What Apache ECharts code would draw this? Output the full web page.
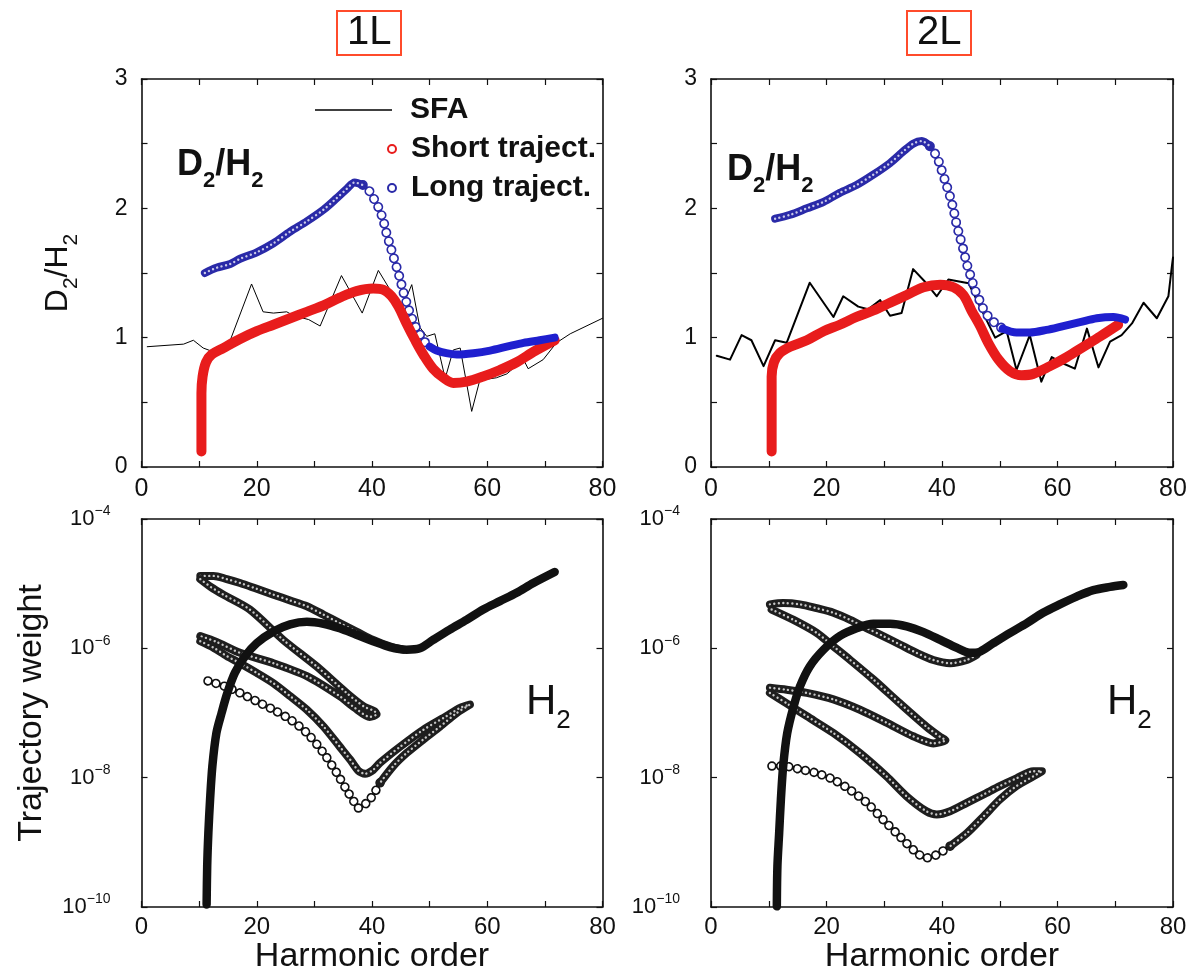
<!DOCTYPE html>
<html>
<head>
<meta charset="utf-8">
<title>D2/H2 ratio and trajectory weights</title>
<script src="https://cdn.jsdelivr.net/npm/echarts@6.0.0/dist/echarts.min.js"></script>
<style>
  html, body { margin: 0; padding: 0; background: #ffffff; }
  #chart { width: 1189px; height: 977px; }
</style>
</head>
<body>
<div id="chart"></div>
<script>
// ---------------- top row: D2/H2 ratio vs harmonic order, [order, ratio] ----------------
// 1L
const sfa1L = [[1.0,0.93],[7.3,0.95],[9.0,0.98],[10.7,0.92],[11.9,0.90],[15.4,0.98],[19.1,1.415],
  [21.1,1.20],[22.9,1.19],[25.2,1.20],[26.4,1.17],[29.0,1.14],[31.0,1.09],[34.7,1.48],[38.3,1.19],
  [41.1,1.52],[43.0,1.38],[45.4,1.25],[46.9,1.41],[48.3,1.08],[49.5,1.01],[50.9,1.03],[52.7,0.685],
  [54.1,0.905],[55.3,0.92],[57.3,0.43],[58.7,0.67],[61.6,0.69],[63.4,0.72],[66.3,0.83],[67.1,0.76],
  [69.7,0.83],[72.0,0.96],[74.4,1.03],[80.0,1.15]];
const short1L = [[10.4,0.12],[10.4,0.31],[10.4,0.57],[10.6,0.70],[11.2,0.81],[12.2,0.87],[14.2,0.92],
  [17.1,0.99],[20.0,1.05],[22.9,1.10],[25.8,1.15],[28.7,1.20],[31.6,1.25],[34.4,1.31],[37.3,1.36],
  [40.2,1.38],[42.0,1.37],[43.4,1.32],[44.6,1.24],[46.0,1.11],[47.5,0.98],[48.9,0.87],[50.6,0.76],
  [52.4,0.69],[54.1,0.65],[56.4,0.66],[59.3,0.70],[62.2,0.75],[65.1,0.81],[68.0,0.89],[71.7,0.98]];
const longRise1L = [[11.0,1.50],[13.0,1.54],[15.4,1.57],[17.1,1.61],[20.0,1.66],[22.9,1.73],[25.8,1.82],
  [28.7,1.90],[31.6,1.99],[33.9,2.08],[35.6,2.15],[37.0,2.20],[38.4,2.18]];
const longDrop1L = [[38.4,2.18],[39.6,2.13],[40.5,2.06],[41.3,1.99],[42.0,1.90],[42.5,1.81],[43.1,1.72],
  [43.7,1.63],[44.3,1.54],[44.9,1.45],[45.4,1.36],[46.0,1.27],[46.6,1.19],[47.3,1.11],[48.0,1.05],
  [48.9,0.98],[50.0,0.93]];
const longTail1L = [[50.0,0.93],[51.2,0.90],[52.9,0.88],[54.7,0.87],[57.6,0.88],[60.5,0.90],[63.4,0.93],
  [66.3,0.96],[69.1,0.98],[71.7,1.00]];

// 2L
const sfa2L = [[1.0,0.86],[3.3,0.83],[5.3,1.02],[7.0,0.98],[9.1,0.78],[11.1,0.98],[13.1,0.96],[17.1,1.425],
  [21.2,1.16],[22.9,1.32],[25.5,1.24],[27.2,1.22],[29.3,1.29],[31.0,1.17],[33.0,1.19],[35.0,1.53],
  [37.1,1.43],[39.1,1.32],[41.1,1.45],[44.6,1.42],[49.2,1.00],[51.2,1.05],[52.9,0.75],[55.2,1.02],
  [57.2,0.66],[59.0,0.85],[61.0,0.80],[63.0,0.76],[65.1,1.07],[67.1,0.77],[69.1,0.97],[71.1,1.02],
  [72.9,1.11],[74.9,1.27],[77.2,1.15],[79.2,1.32],[79.8,1.55],[80.0,1.62]];
const short2L = [[10.5,0.12],[10.5,0.44],[10.5,0.70],[10.9,0.81],[11.9,0.88],[13.7,0.93],[16.6,0.98],
  [19.5,1.05],[22.3,1.10],[25.2,1.16],[28.1,1.21],[31.0,1.27],[33.9,1.33],[36.8,1.39],[39.7,1.41],
  [42.0,1.39],[43.7,1.33],[45.1,1.21],[46.6,1.09],[48.0,0.96],[49.8,0.83],[51.8,0.74],[53.8,0.71],
  [55.8,0.72],[58.7,0.78],[61.6,0.85],[64.5,0.93],[67.4,1.01],[70.5,1.10]];
const longRise2L = [[11.1,1.92],[13.7,1.95],[16.6,2.00],[19.5,2.05],[22.3,2.12],[25.2,2.18],[28.1,2.26],
  [31.0,2.35],[33.3,2.44],[35.0,2.50],[36.5,2.52],[37.9,2.48]];
const longDrop2L = [[37.9,2.48],[39.1,2.40],[39.9,2.30],[40.7,2.19],[41.4,2.09],[42.0,1.99],[42.5,1.88],
  [43.1,1.78],[43.7,1.68],[44.3,1.57],[45.0,1.47],[45.7,1.37],[46.6,1.28],[47.4,1.20],[48.3,1.15],
  [49.5,1.10],[50.5,1.07]];
const longTail2L = [[50.5,1.07],[52.9,1.04],[55.2,1.04],[58.1,1.06],[61.0,1.09],[63.9,1.12],[66.8,1.15],
  [69.7,1.16],[71.7,1.14]];

// ---------------- bottom row: H2 trajectory weights, [order, log10(weight)] ----------------
// 1L
const wShort1L = [[11.3,-9.96],[11.4,-9.37],[11.6,-8.86],[11.9,-8.34],[12.3,-7.82],[13.0,-7.31],[13.9,-7.00],
  [14.9,-6.69],[16.2,-6.38],[18.0,-6.12],[20.0,-5.92],[22.9,-5.74],[25.8,-5.63],[28.7,-5.59],[31.6,-5.62],
  [34.4,-5.69],[37.3,-5.79],[40.2,-5.89],[43.1,-5.98],[46.0,-6.02],[48.3,-6.00],[50.6,-5.87],[53.5,-5.71],
  [56.4,-5.56],[59.3,-5.40],[62.2,-5.27],[65.1,-5.14],[68.0,-4.99],[71.7,-4.82]];
const wLoopTop1L = [[10.2,-4.88],[12.5,-4.88],[14.8,-4.93],[17.1,-4.99],[20.0,-5.08],[22.9,-5.17],[25.8,-5.26],
  [28.7,-5.35],[31.6,-5.48],[34.4,-5.61],[37.3,-5.74],[40.2,-5.87],[43.1,-5.97],[45.4,-6.02]];
const wHook1L = [[10.2,-4.93],[12.0,-5.05],[14.2,-5.17],[18.8,-5.40],[24.6,-5.87],[30.4,-6.28],[35.6,-6.69],
  [38.6,-6.90],[40.4,-6.97],[40.8,-7.02],[39.6,-7.06],[37.0,-6.92],[34.4,-6.74],[28.7,-6.43],[22.9,-6.23],
  [17.1,-6.07],[13.0,-5.90],[10.2,-5.81]];
const wLoopLow1L = [[10.2,-5.89],[12.5,-5.99],[14.8,-6.12],[17.1,-6.23],[20.0,-6.38],[22.9,-6.54],[25.8,-6.74],
  [28.7,-6.95],[31.6,-7.21],[34.4,-7.52],[36.2,-7.72],[37.6,-7.89],[38.8,-7.94],[40.2,-7.88],[41.4,-7.77],
  [44.9,-7.52],[48.9,-7.26],[52.9,-7.05],[55.3,-6.92],[57.0,-6.87],[54.7,-7.00],[51.8,-7.21],[48.9,-7.41],
  [46.0,-7.62],[43.7,-7.82],[41.4,-8.08]];
const wLoopOpen1L = [[41.4,-8.08],[39.6,-8.34],[37.6,-8.47],[37.0,-8.39],[35.6,-8.19],[33.9,-7.93],[31.6,-7.62],
  [28.7,-7.31],[25.8,-7.10],[22.9,-6.95],[20.0,-6.82],[17.1,-6.69],[14.8,-6.60],[12.5,-6.53],[10.2,-6.47]];

// 2L
const wShort2L = [[11.4,-9.99],[11.5,-9.37],[11.8,-8.86],[12.1,-8.34],[12.5,-7.82],[13.2,-7.31],[14.3,-6.90],
  [15.4,-6.59],[17.1,-6.28],[19.5,-6.02],[22.3,-5.81],[25.2,-5.69],[28.1,-5.62],[31.0,-5.62],[33.9,-5.66],
  [36.8,-5.75],[39.7,-5.87],[42.5,-5.99],[44.8,-6.07],[46.6,-6.05],[48.9,-5.92],[51.8,-5.76],[54.7,-5.61],
  [57.5,-5.45],[60.4,-5.32],[63.3,-5.20],[66.2,-5.10],[69.1,-5.05],[71.4,-5.02]];
const wLoopTop2L = [[10.2,-5.32],[12.5,-5.30],[15.4,-5.32],[18.3,-5.38],[21.2,-5.45],[24.1,-5.56],[27.0,-5.69],
  [29.8,-5.81],[32.7,-5.94],[35.6,-6.07],[38.5,-6.18],[41.4,-6.23],[44.3,-6.18],[46.0,-6.10]];
const wHook2L = [[10.5,-5.40],[14.3,-5.56],[18.3,-5.76],[21.2,-5.97],[24.1,-6.18],[28.1,-6.48],[32.7,-6.85],
  [37.3,-7.21],[39.7,-7.37],[40.6,-7.42],[38.5,-7.47],[35.0,-7.36],[30.4,-7.15],[25.8,-6.95],[21.2,-6.79],
  [16.6,-6.69],[13.1,-6.64],[10.2,-6.61]];
const wLoopLow2L = [[10.2,-6.69],[13.1,-6.85],[16.6,-7.05],[21.2,-7.31],[25.8,-7.62],[30.4,-7.98],[33.9,-8.29],
  [37.3,-8.52],[39.1,-8.57],[41.4,-8.52],[44.3,-8.39],[47.2,-8.26],[50.0,-8.13],[52.9,-8.01],[55.8,-7.90],
  [57.3,-7.90],[55.8,-7.98],[52.9,-8.13],[50.0,-8.34],[47.2,-8.60],[44.3,-8.86],[41.4,-9.06]];
const wLoopOpen2L = [[41.4,-9.06],[39.1,-9.19],[37.3,-9.24],[35.6,-9.16],[32.7,-8.91],[29.8,-8.65],[27.0,-8.39],
  [24.1,-8.19],[21.2,-8.03],[18.3,-7.93],[15.4,-7.87],[12.5,-7.82],[10.2,-7.82]];

// axis tick values
const orderTicks = { min: 0, max: 80, step: 10, labelEvery: 20 };
const ratioTicks = { min: 0, max: 3, step: 0.5 };
const weightRange = [1e-10, 1e-4];

// ---------------- styling ----------------
const FONT = '"Liberation Sans", Arial, Helvetica, sans-serif';
const INK = '#111111';
const RED = '#e81c1c';
const BLUE = '#2a2aa8';
const BLUE_TAIL = '#1f1fcf';
const DARK = '#1e1e1e';

const toWeight = arr => arr.map(([h, e]) => [h, Math.pow(10, e)]);

const grids = [
  { left: 141.5, top: 79, width: 461, height: 388 },
  { left: 711, top: 79, width: 462, height: 388 },
  { left: 141.5, top: 519, width: 461, height: 388 },
  { left: 711, top: 519, width: 462, height: 388 }
].map(g => Object.assign({ containLabel: false, outerBoundsMode: 'none' }, g));

const axisLineStyle = { show: true, onZero: false, lineStyle: { color: INK, width: 1.6 } };
const axisTickStyle = { show: true, inside: true, length: 6, lineStyle: { color: INK, width: 1.2 } };

function harmonicAxes(gi, labelSize, margin, withName) {
  const base = {
    type: 'value', gridIndex: gi, min: orderTicks.min, max: orderTicks.max, interval: orderTicks.step,
    axisLine: axisLineStyle, axisTick: axisTickStyle, splitLine: { show: false }
  };
  return [
    Object.assign({}, base, {
      position: 'bottom',
      axisLabel: {
        margin, fontSize: labelSize, fontFamily: FONT, color: INK,
        formatter: v => (Math.round(v) % orderTicks.labelEvery === 0 ? String(Math.round(v)) : '')
      },
      name: withName ? 'Harmonic order' : '',
      nameLocation: 'middle', nameGap: 20,
      nameTextStyle: { fontSize: 34, fontFamily: FONT, color: INK }
    }),
    Object.assign({}, base, { position: 'top', axisLabel: { show: false } })
  ];
}

function ratioAxes(gi, withName) {
  const base = {
    type: 'value', gridIndex: gi, min: ratioTicks.min, max: ratioTicks.max, interval: ratioTicks.step,
    axisLine: axisLineStyle, axisTick: axisTickStyle, splitLine: { show: false }
  };
  return [
    Object.assign({}, base, {
      position: 'left',
      axisLabel: {
        margin: 14, fontSize: 23, fontFamily: FONT, color: INK,
        formatter: v => (Math.abs(v - Math.round(v)) < 1e-6 ? String(Math.round(v)) : '')
      },
      name: withName ? '{m|D}{s|2}{m|/H}{s|2}' : '',
      nameLocation: 'middle', nameRotate: 90, nameGap: 60,
      nameTextStyle: {
        color: INK, fontFamily: FONT,
        rich: {
          m: { fontSize: 32, fontFamily: FONT, color: INK },
          s: { fontSize: 21, fontFamily: FONT, color: INK, padding: [26, 0, 0, 0] }
        }
      }
    }),
    Object.assign({}, base, { position: 'right', axisLabel: { show: false } })
  ];
}

function weightAxes(gi, withName) {
  const base = {
    type: 'log', logBase: 100, splitNumber: 3, gridIndex: gi, min: weightRange[0], max: weightRange[1],
    axisLine: axisLineStyle, axisTick: axisTickStyle, splitLine: { show: false }, minorTick: { show: false }
  };
  return [
    Object.assign({}, base, {
      position: 'left',
      axisLabel: {
        margin: 31, fontFamily: FONT, color: INK,
        formatter: v => '{b|10}{s|\u2212' + Math.abs(Math.round(Math.log10(v))) + '}',
        rich: {
          b: { fontSize: 22, fontFamily: FONT, color: INK },
          s: { fontSize: 14, fontFamily: FONT, color: INK, padding: [0, 0, 15, 0] }
        }
      },
      name: withName ? 'Trajectory weight' : '',
      nameLocation: 'middle', nameRotate: 90, nameGap: 93,
      nameTextStyle: { fontSize: 34, fontFamily: FONT, color: INK }
    }),
    Object.assign({}, base, { position: 'right', axisLabel: { show: false } })
  ];
}

// a solid band following the data
function band(name, data, gi, color, width, z, smooth) {
  return {
    type: 'line', name, xAxisIndex: 2 * gi, yAxisIndex: 2 * gi, data,
    smooth: smooth === undefined ? 0.3 : smooth, symbol: 'none', showSymbol: false, silent: true, z,
    itemStyle: { color }, lineStyle: { color, width, cap: 'round', join: 'round' }
  };
}
// a band of densely packed open markers: solid band with a row of light specks along its middle
function hatched(name, data, gi, color, width, z, smooth, speck) {
  const b = band(name, data, gi, color, width, z, smooth);
  const s = band(name, data, gi, color, speck || 2, z, smooth);
  s.lineStyle = { color: 'rgba(255,255,255,0.75)', width: speck || 2, type: [0.001, 4.5], cap: 'round' };
  return [b, s];
}
// a chain of open circles along the data: dark dots, then white centres on top
function rings(name, data, gi, color, size, gap, z) {
  const dash = [0.001, gap];
  const common = {
    type: 'line', name, xAxisIndex: 2 * gi, yAxisIndex: 2 * gi, data,
    smooth: 0.3, symbol: 'none', showSymbol: false, silent: true, z
  };
  return [
    Object.assign({}, common, { itemStyle: { color }, lineStyle: { color, width: size, type: dash, cap: 'round' } }),
    Object.assign({}, common, { itemStyle: { color }, lineStyle: { color: '#ffffff', width: size - 3.4, type: dash, cap: 'round' } })
  ];
}

const series = [
  // 1L ratio
  ...hatched('Long traject.', longRise1L, 0, BLUE, 8, 5, 0.3, 2.4),
  band('Long traject.', longTail1L, 0, BLUE_TAIL, 8, 5),
  ...rings('Long traject.', longDrop1L, 0, BLUE, 10, 9, 3),
  band('Short traject.', short1L, 0, RED, 10, 4, 0.35),
  band('SFA', sfa1L, 0, '#000000', 1, 2, false),
  // 2L ratio
  ...hatched('Long traject.', longRise2L, 1, BLUE, 8, 5, 0.3, 2.4),
  band('Long traject.', longTail2L, 1, BLUE_TAIL, 8, 5),
  ...rings('Long traject.', longDrop2L, 1, BLUE, 10, 9, 3),
  band('Short traject.', short2L, 1, RED, 10, 4, 0.35),
  band('SFA', sfa2L, 1, '#000000', 2, 2, false),
  // 1L weights
  band('w1', toWeight(wShort1L), 2, INK, 8.5, 5),
  ...hatched('w2', toWeight(wLoopTop1L), 2, DARK, 8, 4, 0.3, 2.4),
  ...hatched('w3', toWeight(wHook1L), 2, DARK, 8, 4, 0.25, 2.4),
  ...hatched('w4', toWeight(wLoopLow1L), 2, DARK, 8, 4, 0.25, 2.4),
  ...rings('w5', toWeight(wLoopOpen1L), 2, INK, 9.5, 8.5, 3),
  // 2L weights
  band('w1', toWeight(wShort2L), 3, INK, 8.5, 5),
  ...hatched('w2', toWeight(wLoopTop2L), 3, DARK, 8, 4, 0.3, 2.4),
  ...hatched('w3', toWeight(wHook2L), 3, DARK, 8, 4, 0.25, 2.4),
  ...hatched('w4', toWeight(wLoopLow2L), 3, DARK, 8, 4, 0.25, 2.4),
  ...rings('w5', toWeight(wLoopOpen2L), 3, INK, 9.5, 8.5, 3)
];

const legendText = { fontSize: 30, fontWeight: 'bold', fontFamily: FONT, color: INK };

const panelLabel = (text, left, top, big, small, weight, drop) => ({
  text, left, top, padding: 0,
  textStyle: {
    rich: {
      m: { fontSize: big, fontWeight: weight, fontFamily: FONT, color: INK },
      s: { fontSize: small, fontWeight: weight, fontFamily: FONT, color: INK, padding: [drop, 0, 0, 0] }
    }
  }
});
const tagBox = (text, left) => ({
  text, left, top: 11, padding: [1, 10, 1, 10], borderColor: '#ff4b2b', borderWidth: 2,
  textStyle: { fontSize: 40, lineHeight: 42, fontWeight: 'normal', fontFamily: FONT, color: INK }
});

const option = {
  animation: false,
  backgroundColor: '#ffffff',
  grid: grids,
  title: [
    tagBox('1L', 337),
    tagBox('2L', 907),
    panelLabel('{m|D}{s|2}{m|/H}{s|2}', 177, 138, 36, 22, 'bold', 32),
    panelLabel('{m|D}{s|2}{m|/H}{s|2}', 727, 143, 36, 22, 'bold', 32),
    panelLabel('{m|H}{s|2}', 526, 670, 42, 26, 'normal', 38),
    panelLabel('{m|H}{s|2}', 1107, 670, 42, 26, 'normal', 38)
  ],
  legend: [
    { data: [{ name: 'SFA', icon: 'rect' }], left: 310, top: 90, itemWidth: 77, itemHeight: 1.4,
      selectedMode: false, textStyle: Object.assign({ padding: [0, 0, 0, 13] }, legendText) },
    { data: [{ name: 'Short traject.', icon: 'emptyCircle' }], left: 382, top: 129, itemWidth: 8, itemHeight: 8,
      selectedMode: false, textStyle: Object.assign({ padding: [0, 0, 0, 10] }, legendText) },
    { data: [{ name: 'Long traject.', icon: 'emptyCircle' }], left: 382, top: 168, itemWidth: 8, itemHeight: 8,
      selectedMode: false, textStyle: Object.assign({ padding: [0, 0, 0, 10] }, legendText) }
  ],
  xAxis: [
    ...harmonicAxes(0, 25, 10, false),
    ...harmonicAxes(1, 25, 10, false),
    ...harmonicAxes(2, 24, 8, true),
    ...harmonicAxes(3, 24, 8, true)
  ],
  yAxis: [
    ...ratioAxes(0, true),
    ...ratioAxes(1, false),
    ...weightAxes(2, true),
    ...weightAxes(3, false)
  ],
  series
};

const chart = echarts.init(document.getElementById('chart'), null, { renderer: 'canvas' });
chart.setOption(option);
</script>
</body>
</html>
